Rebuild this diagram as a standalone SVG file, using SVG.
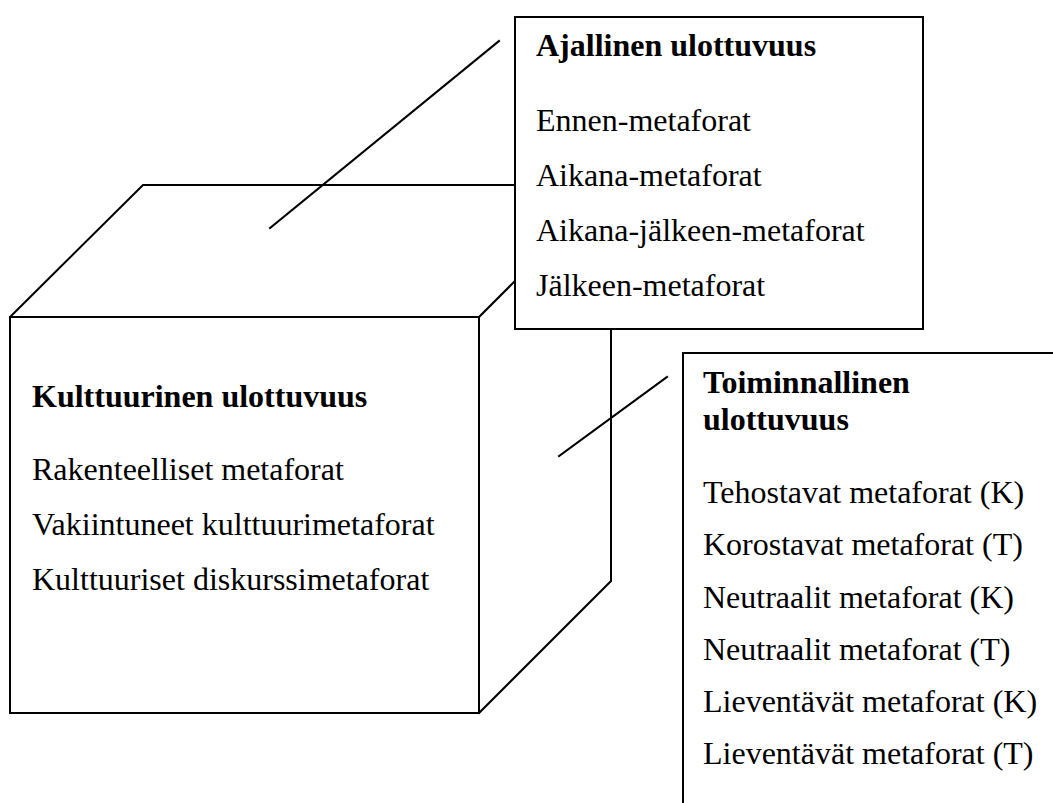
<svg xmlns="http://www.w3.org/2000/svg" width="1053" height="803" viewBox="0 0 1053 803">
<style>
.ln{fill:none;stroke:#000;stroke-width:2;stroke-linecap:square}
.bx{fill:#fff;stroke:#000;stroke-width:2}
text{font-family:"Liberation Serif","Times New Roman",serif;font-size:32px;fill:#000}
.b{font-weight:bold}
</style>
<rect width="1053" height="803" fill="#fff"/>
<g id="cube">
<path class="ln" d="M10,317 L143,185 L514,185"/>
<path class="ln" d="M479,317 L514,282"/>
<rect class="ln" x="10" y="317" width="469" height="396"/>
<path class="ln" d="M479,713 L611,581 L611,329"/>
</g>
<g id="connectors">
<line class="ln" x1="270" y1="228" x2="499" y2="41"/>
<line class="ln" x1="559" y1="456" x2="667" y2="377"/>
</g>
<g id="node-kulttuurinen">
<text class="b" x="32" y="407">Kulttuurinen ulottuvuus</text>
<text x="32" y="480">Rakenteelliset metaforat</text>
<text x="32" y="535">Vakiintuneet kulttuurimetaforat</text>
<text x="32" y="590">Kulttuuriset diskurssimetaforat</text>
</g>
<g id="node-ajallinen">
<rect class="bx" x="515" y="17" width="408" height="312"/>
<text class="b" x="536" y="56">Ajallinen ulottuvuus</text>
<text x="536" y="131">Ennen-metaforat</text>
<text x="536" y="186">Aikana-metaforat</text>
<text x="536" y="241">Aikana-jälkeen-metaforat</text>
<text x="536" y="296">Jälkeen-metaforat</text>
</g>
<g id="node-toiminnallinen">
<path class="ln" d="M683,805 L683,353 L1055,353"/>
<text class="b" x="703" y="393">Toiminnallinen</text>
<text class="b" x="703" y="430">ulottuvuus</text>
<text x="703" y="503">Tehostavat metaforat (K)</text>
<text x="703" y="555">Korostavat metaforat (T)</text>
<text x="703" y="608">Neutraalit metaforat (K)</text>
<text x="703" y="660">Neutraalit metaforat (T)</text>
<text x="703" y="712">Lieventävät metaforat (K)</text>
<text x="703" y="764">Lieventävät metaforat (T)</text>
</g>
</svg>
